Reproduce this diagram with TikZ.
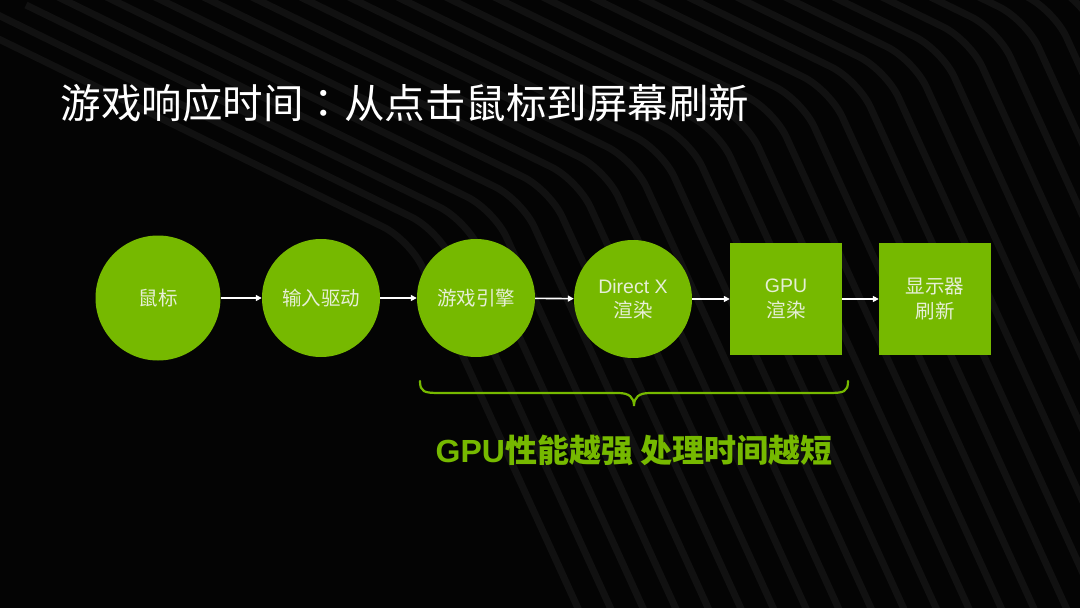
\documentclass[tikz,border=0pt]{standalone}
\usepackage{fontspec}
\setmainfont{Liberation Sans}
\newfontfamily\cjk{Noto Sans CJK SC}
\newfontfamily\cjktc{Noto Sans CJK TC}
\usetikzlibrary{arrows.meta}
\definecolor{nvgreen}{HTML}{76B900}
\definecolor{bgblack}{HTML}{040404}
\definecolor{stripecol}{HTML}{111111}
\definecolor{lbl}{HTML}{E6EFD6}
\begin{document}
\begin{tikzpicture}[x=1pt,y=-1pt,
  lblfont/.style={font=\fontsize{19.5}{24.5}\selectfont},
  circ/.style={circle,fill=nvgreen,minimum size=118pt,inner sep=0pt,text=lbl,lblfont,align=center},
  sq/.style={rectangle,fill=nvgreen,minimum width=112pt,minimum height=112pt,inner sep=0pt,text=lbl,lblfont,align=center},
  flow/.style={draw=white,line width=1.6pt,-{Triangle[length=6pt,width=6pt]}},
  stripe/.style={draw=stripecol,line width=7pt,rounded corners=30pt},
  bracestyle/.style={draw=nvgreen,line width=2.2pt,line cap=round}
]
\fill[bgblack] (0,0) rectangle (1080,608);
\useasboundingbox (0,0) rectangle (1080,608);
\begin{scope}
\clip (0,0) rectangle (1080,608);
\foreach \i in {0,...,30} {
  \pgfmathsetmacro\bx{410+28*\i}
  \pgfmathsetmacro\by{240-10*\i}
  \draw[stripe] (\bx-440,\by-215) -- (\bx,\by) -- (\bx+260,\by+570);
}
\end{scope}

\node[anchor=west,text=white,font=\cjk\fontsize{40.5}{48}\selectfont] (title) at (57,103) {游戏响应时间{\cjktc ：}从点击鼠标到屏幕刷新};

\node[circ,minimum size=125pt] (mouse) at (158,298) {\cjk 鼠标};
\node[circ] (driver) at (321,298) {\cjk 输入驱动};
\node[circ] (engine) at (476,298) {\cjk 游戏引擎};
\node[circ] (dx) at (633,299) {Direct X\\\cjk 渲染};
\node[sq] (gpu) at (786,299) {GPU\\\cjk 渲染};
\node[sq] (disp) at (935,299) {\cjk 显示器\\\cjk 刷新};

\draw[flow] (mouse) -- (driver);
\draw[flow] (driver) -- (engine);
\draw[flow] (engine) -- (dx);
\draw[flow] (dx) -- (gpu);
\draw[flow] (gpu) -- (disp);

\coordinate (bl) at (420,381);
\coordinate (bm) at (634,406);
\coordinate (br) at (848,381);
\draw[bracestyle] (bl) .. controls (420,392) and (424,393) .. (440,393) -- (618,393)
  .. controls (629,393) and (634,397) .. (bm)
  .. controls (634,397) and (639,393) .. (650,393) -- (828,393)
  .. controls (844,393) and (848,392) .. (br);

\node[text=nvgreen,font=\bfseries\fontsize{32}{36}\selectfont] (note) at (634,450) {GPU{\cjk 性能越强 处理时间越短}};
\end{tikzpicture}
\end{document}
